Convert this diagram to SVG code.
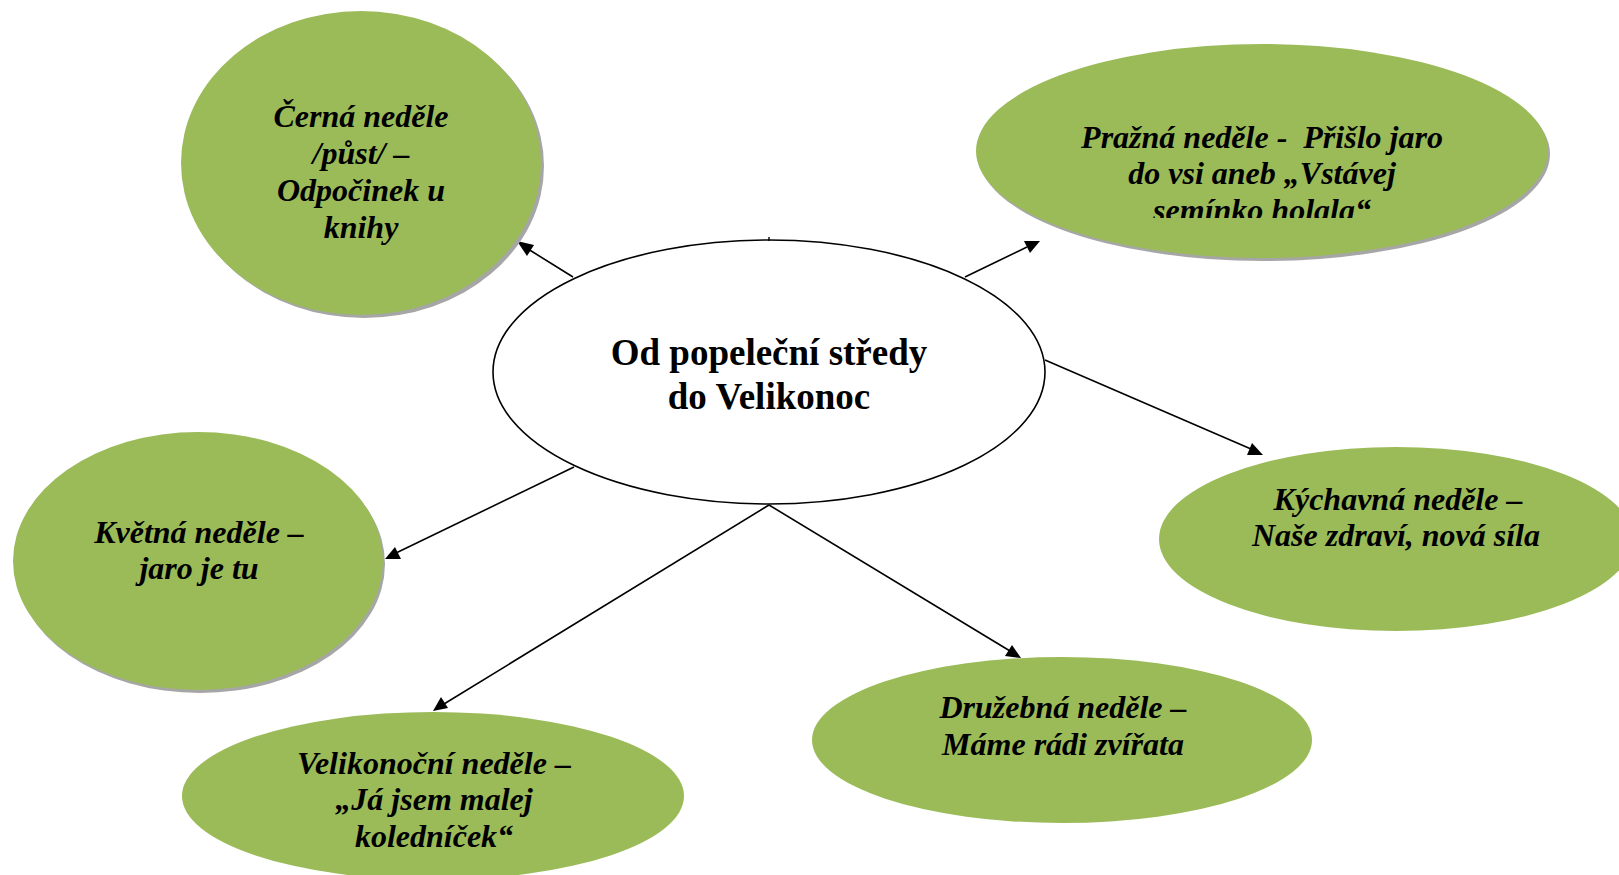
<svg xmlns="http://www.w3.org/2000/svg" width="1619" height="875" viewBox="0 0 1619 875">
<defs>
<style>
.g{fill:#9BBB59;}
.sh{fill:#a6a6a6;}
.t{font-family:"Liberation Serif","Times New Roman",serif;font-weight:bold;font-style:italic;font-size:32px;fill:#000;text-anchor:middle;white-space:pre;}
.c{font-family:"Liberation Serif","Times New Roman",serif;font-weight:bold;font-size:37px;fill:#000;text-anchor:middle;}
.ln{stroke:#000;stroke-width:1.6;fill:none;}
.ah{fill:#000;}
</style>
<clipPath id="clipP"><rect x="900" y="100" width="700" height="118"/></clipPath>
</defs>
<rect width="1619" height="875" fill="#fff"/>
<g id="connectors">
<line class="ln" x1="573" y1="277" x2="528" y2="249"/>
<polygon class="ah" points="517,241 534,245 527,256"/>
<line class="ln" x1="965" y1="277" x2="1027" y2="247"/>
<polygon class="ah" points="1040,241 1024,241 1030,253"/>
<line class="ln" x1="1045" y1="360" x2="1251" y2="449"/>
<polygon class="ah" points="1263,455 1247,455 1252,443"/>
<line class="ln" x1="574" y1="467" x2="396" y2="553"/>
<polygon class="ah" points="385,559 395,547 401,559"/>
<line class="ln" x1="769" y1="505" x2="444" y2="704"/>
<polygon class="ah" points="433,711 441,697 448,708"/>
<line class="ln" x1="769" y1="505" x2="1010" y2="651"/>
<polygon class="ah" points="1021,658 1005,656 1012,645"/>
</g>
<g id="center">
<ellipse cx="769" cy="372" rx="276" ry="132" fill="#fff" stroke="#000" stroke-width="1.6"/>
<line x1="769" y1="237" x2="769" y2="241" stroke="#000" stroke-width="1.4"/>
<text class="c" x="769" y="365">Od popeleční středy</text>
<text class="c" x="769" y="409">do Velikonoc</text>
</g>
<g id="cerna">
<ellipse class="sh" cx="364" cy="166" rx="180" ry="152"/>
<ellipse class="g" cx="361" cy="163" rx="180" ry="152"/>
<text class="t" x="361" y="127">Černá neděle</text>
<text class="t" x="361" y="164">/půst/ –</text>
<text class="t" x="361" y="201">Odpočinek u</text>
<text class="t" x="361" y="238">knihy</text>
</g>
<g id="prazna">
<ellipse class="sh" cx="1264" cy="154" rx="286" ry="107"/>
<ellipse class="g" cx="1262" cy="151" rx="286" ry="107"/>
<g clip-path="url(#clipP)">
<text class="t" x="1262" y="148">Pražná neděle -  Přišlo jaro</text>
<text class="t" x="1262" y="184">do vsi aneb „Vstávej</text>
<text class="t" x="1262" y="221">semínko holala“</text>
</g>
</g>
<g id="kychavna">
<ellipse class="g" cx="1396" cy="539" rx="237" ry="92"/>
<text class="t" x="1398" y="510">Kýchavná neděle –</text>
<text class="t" x="1396" y="546">Naše zdraví, nová síla</text>
</g>
<g id="kvetna">
<ellipse class="sh" cx="200" cy="564" rx="185" ry="129"/>
<ellipse class="g" cx="198" cy="561" rx="185" ry="129"/>
<text class="t" x="199" y="543">Květná neděle –</text>
<text class="t" x="199" y="579">jaro je tu</text>
</g>
<g id="velikonocni">
<ellipse class="g" cx="433" cy="796" rx="251" ry="84"/>
<text class="t" x="434" y="774">Velikonoční neděle –</text>
<text class="t" x="434" y="810">„Já jsem malej</text>
<text class="t" x="434" y="847">koledníček“</text>
</g>
<g id="druzebna">
<ellipse class="g" cx="1062" cy="740" rx="250" ry="83"/>
<text class="t" x="1063" y="718">Družebná neděle –</text>
<text class="t" x="1063" y="755">Máme rádi zvířata</text>
</g>
</svg>
